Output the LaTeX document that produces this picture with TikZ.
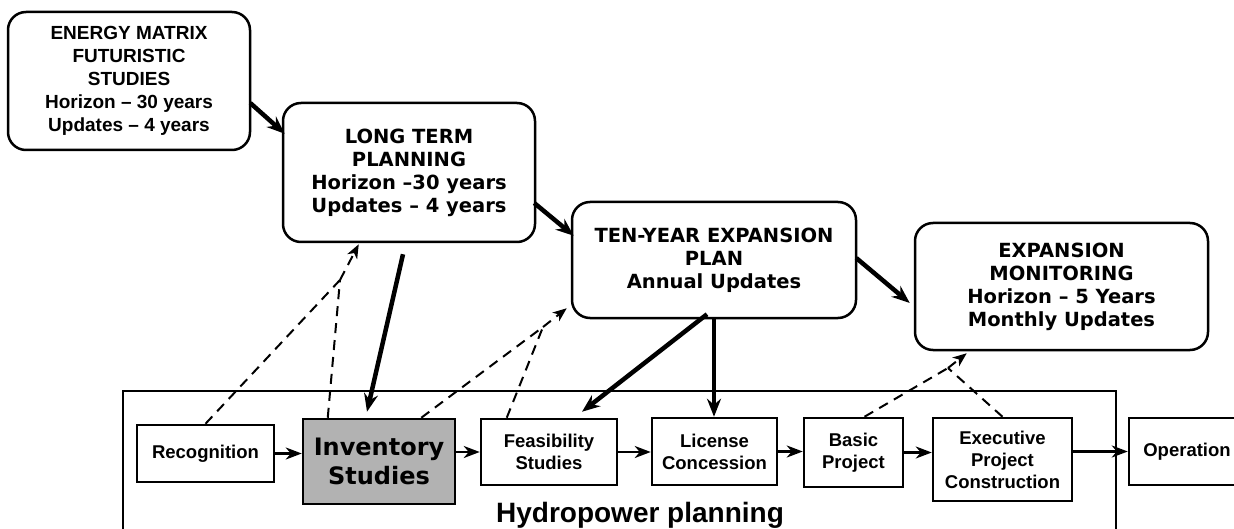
\documentclass[tikz,border=0pt]{standalone}
\usepackage{fontspec}
\usetikzlibrary{arrows.meta,calc}
\newfontfamily\arialf{Liberation Sans}
\newfontfamily\verdf{DejaVu Sans}
\begin{document}
\begin{tikzpicture}[x=1pt,y=-1pt,
 rbox/.style={draw,line width=2.5pt,rounded corners=18pt,align=center,inner sep=0pt,fill=white,
   font=\verdf\bfseries\fontsize{19.5}{23}\selectfont},
 sbox/.style={draw,line width=2.5pt,align=center,inner sep=0pt,fill=white,
   font=\arialf\bfseries\fontsize{18.5}{22}\selectfont},
 thickarr/.style={line width=4.5pt,-{Stealth[length=18pt,width=14pt,inset=6pt]}},
 flowarr/.style={line width=2.5pt,-{Stealth[length=16pt,width=12pt,inset=5pt]}},
 dasharr/.style={line width=2pt,dash pattern=on 10pt off 7pt,-{Stealth[length=14pt,width=11pt,inset=4pt]}},
 dashline/.style={line width=2pt,dash pattern=on 10pt off 7pt},
]
\clip (0,0) rectangle (1234,529);

% frame
\node[draw,line width=2pt,minimum width=993pt,minimum height=160pt,anchor=north west,inner sep=0pt] (frame) at (122,390) {};
\node[font=\arialf\bfseries\fontsize{28}{32}\selectfont,anchor=base,inner sep=0pt] (hp) at (640,522) {Hydropower planning};

% top boxes
\node[rbox,font=\arialf\bfseries\fontsize{19}{23}\selectfont,minimum width=242pt,minimum height=138pt] (A) at (129,81)
  {ENERGY MATRIX\\FUTURISTIC\\STUDIES\\Horizon – 30 years\\Updates – 4 years};
\node[rbox,minimum width=252pt,minimum height=139pt] (B) at (409,172.5)
  {LONG TERM\\PLANNING\\Horizon –30 years\\Updates – 4 years};
\node[rbox,minimum width=284pt,minimum height=116pt] (C) at (714,260)
  {TEN-YEAR EXPANSION\\PLAN\\Annual Updates};
\node[rbox,minimum width=293pt,minimum height=127pt] (D) at (1061.5,286.5)
  {EXPANSION\\MONITORING\\Horizon – 5 Years\\Monthly Updates};

% bottom row
\node[sbox,minimum width=137pt,minimum height=57pt] (Rec) at (205.5,453.5) {Recognition};
\node[sbox,fill=black!30,minimum width=152pt,minimum height=85pt,font=\verdf\bfseries\fontsize{24}{29}\selectfont] (Inv) at (379,461.5) {Inventory\\Studies};
\node[sbox,minimum width=136pt,minimum height=66pt] (Feas) at (549,452) {Feasibility\\Studies};
\node[sbox,minimum width=125pt,minimum height=67pt] (Lic) at (714.5,451.5) {License\\Concession};
\node[sbox,minimum width=99pt,minimum height=69pt] (Basic) at (853.5,452.5) {Basic\\Project};
\node[sbox,minimum width=139pt,minimum height=83pt] (Exec) at (1002.5,459.5) {Executive\\Project\\Construction};
\node[sbox,minimum width=116pt,minimum height=67pt] (Op) at (1187,451.5) {Operation};

% flow arrows
\draw[flowarr] (Rec.east) -- (Rec.east -| Inv.west);
\draw[flowarr] (Feas.west -| Inv.east) -- (Feas.west);
\draw[flowarr] (Feas.east) -- (Feas.east -| Lic.west);
\draw[flowarr] (Lic.east) -- (Lic.east -| Basic.west);
\draw[flowarr] (Basic.east) -- (Basic.east -| Exec.west);
\draw[flowarr] (Op.west -| Exec.east) -- (Op.west);

% thick arrows
\draw[thickarr] ($(A.east)+(-1,22)$) -- ($(B.north west)+(3,32)$);
\draw[thickarr] ($(B.east)+(-2,30.5)$) -- ($(C.north west)+(3,35)$);
\draw[thickarr] ($(C.east)+(-1,-2)$) -- ($(D.west)+(-4,16.5)$);
\draw[thickarr] ($(B.south)+(-6,11)$) -- ($(Inv.north)+(-12,-6)$);
\draw[thickarr] ($(C.south)+(-7,-5)$) -- ($(Feas.north)+(33,-6)$);
\draw[thickarr] (C.south) -- (C.south |- Lic.north);

% dashed feedback arrows
\coordinate (J1) at (340,280);
\coordinate (T1) at ($(B.south west)+(77,1)$);
\draw[dashline] (Rec.north) -- (J1);
\draw[dashline] ($(Inv.north west)+(26,0)$) -- (J1);
\draw[dasharr] (J1) -- (T1);

\coordinate (J2) at (543,327);
\coordinate (T2) at ($(C.south west)+(-4,-11)$);
\draw[dashline] ($(Inv.north east)+(-35,0)$) -- (J2);
\draw[dashline] ($(Feas.north west)+(27,0)$) -- (J2);
\draw[dasharr] (J2) -- (T2);

\coordinate (J3) at (948,368);
\coordinate (T3) at ($(D.south west)+(53,2)$);
\draw[dashline] ($(Basic.north)+(11,0)$) -- (J3);
\draw[dashline] (Exec.north) -- (J3);
\draw[dasharr] (J3) -- (T3);
\end{tikzpicture}
\end{document}
